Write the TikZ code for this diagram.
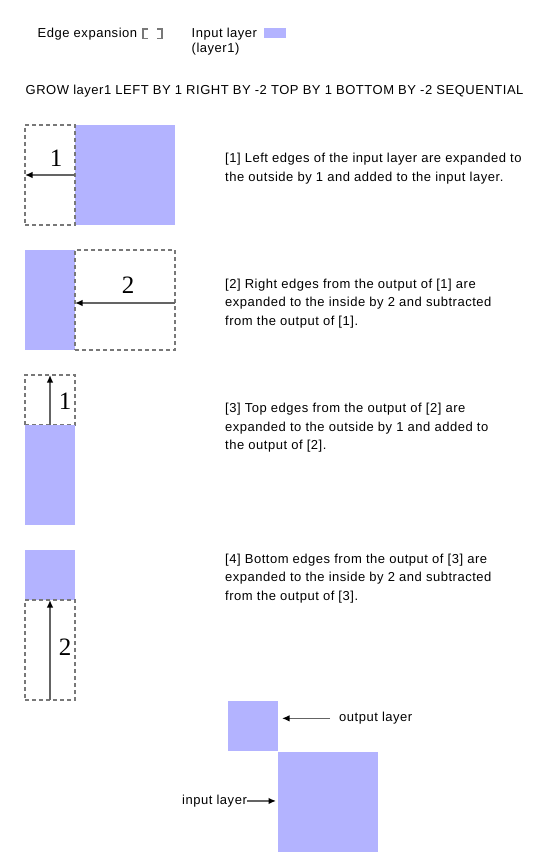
\documentclass[tikz,border=0pt]{standalone}
\usepackage{fontspec}
\setmainfont[LetterSpace=4]{Liberation Sans}
\newfontfamily\digitfont{Liberation Serif}
\usetikzlibrary{arrows.meta}
\definecolor{layerblue}{RGB}{179,179,255}
\definecolor{dashgray}{RGB}{120,120,120}
\definecolor{arrgray}{RGB}{100,100,100}
\tikzset{
  layer/.style={fill=layerblue, draw=none, inner sep=0pt, outer sep=0pt},
  expbox/.style={draw=dashgray, line width=1.3pt, dash pattern=on 4pt off 3pt, inner sep=0pt, outer sep=0pt},
  arr/.style={draw=arrgray, line width=1.4pt, -{Latex[length=7.5pt,width=6.5pt,color=black]}},
  desc/.style={anchor=base west, inner sep=0pt, align=left, font=\fontsize{13}{18.5}\selectfont},
  lbl/.style={anchor=base west, inner sep=0pt, font=\fontsize{13}{15}\selectfont},
  num/.style={anchor=base, inner sep=0pt, font=\digitfont\fontsize{25}{25}\selectfont}
}
\begin{document}
\begin{tikzpicture}[x=1pt,y=-1pt]
\useasboundingbox (0,0) rectangle (550,866);
% legend
\node[lbl] (legexp) at (37.5,37.5) {Edge expansion};
\coordinate (bl) at (143,29);
\draw[dashgray, line width=1.6pt] (148,29) -- (bl) -- (143,38.5) -- (148,38.5);
\draw[dashgray, line width=1.6pt] (157,29) -- (162,29) -- (162,38.5) -- (157,38.5);
\node[lbl, align=left] (leginp) at (191.5,52.5) {Input layer\\(layer1)};
\node[layer, minimum width=22pt, minimum height=10pt] (legblue) at (275,33) {};
% title
\node[lbl] (title) at (25.5,95) {GROW layer1 LEFT BY 1 RIGHT BY -2 TOP BY 1 BOTTOM BY -2 SEQUENTIAL};
% step 1
\node[layer, minimum width=100pt, minimum height=100pt] (b1) at (125,175) {};
\node[expbox, minimum width=50pt, minimum height=100pt] (d1) at (50,175) {};
\draw[arr] (b1.west) -- (d1.west);
\node[num] (n1) at (56,167) {1};
\node[desc] (t1) at (225,181.2) {[1] Left edges of the input layer are expanded to\\the outside by 1 and added to the input layer.};
% step 2
\node[layer, minimum width=50pt, minimum height=100pt] (b2) at (50,300) {};
\node[expbox, minimum width=100pt, minimum height=100pt] (d2) at (125,300) {};
\draw[arr] ([yshift=-3pt]d2.east) -- ([yshift=-3pt]b2.east);
\node[num] (n2) at (128,293) {2};
\node[desc] (t2) at (225,325.3) {[2] Right edges from the output of [1] are\\expanded to the inside by 2 and subtracted\\from the output of [1].};
% step 3
\node[expbox, minimum width=50pt, minimum height=50pt] (d3) at (50,400) {};
\node[layer, minimum width=50pt, minimum height=100pt] (b3) at (50,475) {};
\draw[arr] (b3.north) -- (d3.north);
\node[num] (n3) at (65,409.5) {1};
\node[desc] (t3) at (225,449.7) {[3] Top edges from the output of [2] are\\expanded to the outside by 1 and added to\\the output of [2].};
% step 4
\node[layer, minimum width=50pt, minimum height=50pt] (b4) at (50,575) {};
\node[expbox, minimum width=50pt, minimum height=100pt] (d4) at (50,650) {};
\draw[arr] (d4.south) -- (b4.south);
\node[num] (n4) at (65,655) {2};
\node[desc] (t4) at (225,600.3) {[4] Bottom edges from the output of [3] are\\expanded to the inside by 2 and subtracted\\from the output of [3].};
% result
\node[layer, minimum width=50pt, minimum height=50pt] (osq) at (253,726) {};
\node[layer, minimum width=100pt, minimum height=100pt] (isq) at (328,802) {};
\node[lbl] (ol) at (339,721.7) {output layer};
\node[lbl] (il) at (182,804.3) {input layer};
\draw[arr, shorten <=9pt, shorten >=4pt] (ol.west) -- (ol.west -| osq.east);
\draw[arr, shorten >=2pt] (il.east) -- (il.east -| isq.west);
\end{tikzpicture}
\end{document}
